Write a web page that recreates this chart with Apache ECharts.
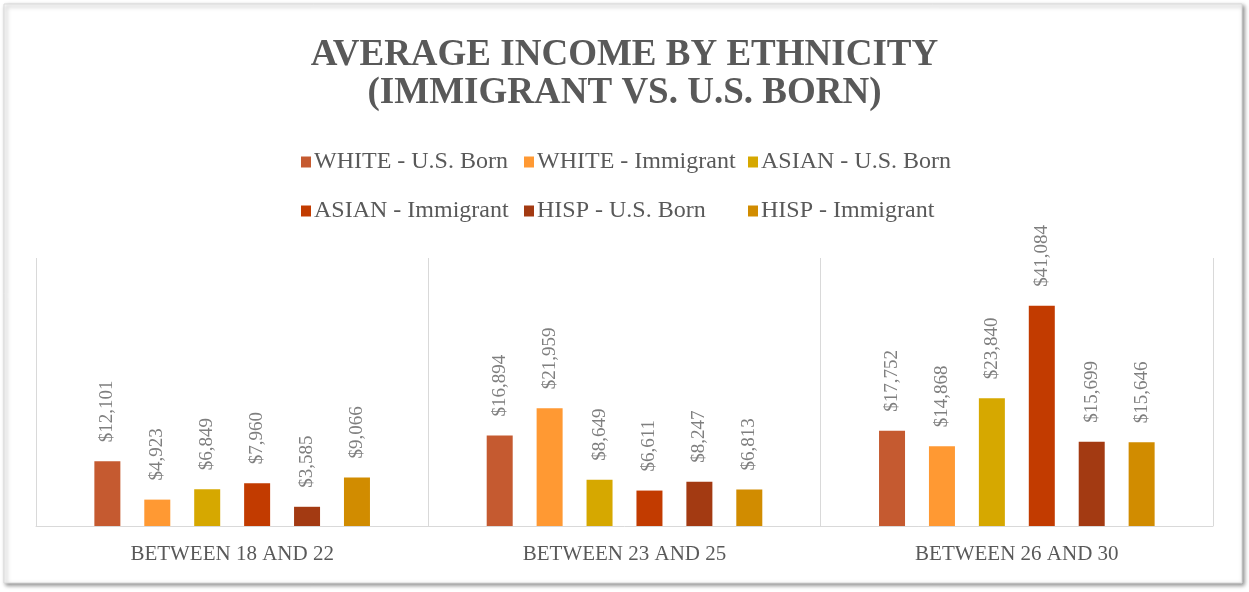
<!DOCTYPE html>
<html>
<head>
<meta charset="utf-8">
<script src="https://cdn.jsdelivr.net/npm/echarts@6/dist/echarts.min.js"></script>
<style>
html,body{margin:0;padding:0;background:#fff;}
#chart{width:1249px;height:592px;}
</style>
</head>
<body>
<div id="chart"></div>
<script>
const categories = ['BETWEEN 18 AND 22', 'BETWEEN 23 AND 25', 'BETWEEN 26 AND 30'];
const seriesNames = ['WHITE - U.S. Born', 'WHITE - Immigrant', 'ASIAN - U.S. Born', 'ASIAN - Immigrant', 'HISP - U.S. Born', 'HISP - Immigrant'];
const whiteUSBorn = [12101, 16894, 17752];
const whiteImmigrant = [4923, 21959, 14868];
const asianUSBorn = [6849, 8649, 23840];
const asianImmigrant = [7960, 6611, 41084];
const hispUSBorn = [3585, 8247, 15699];
const hispImmigrant = [9066, 6813, 15646];
const seriesValues = [whiteUSBorn, whiteImmigrant, asianUSBorn, asianImmigrant, hispUSBorn, hispImmigrant];
const colors = ['#C55A30', '#FF9933', '#D6A800', '#C23B00', '#A33A12', '#D18C00'];

const font = '"Liberation Serif", "Times New Roman", serif';
const chart = echarts.init(document.getElementById('chart'));

const legendBase = {
  orient: 'vertical', top: 145, itemWidth: 10, itemHeight: 11, itemGap: 25,
  icon: 'rect',
  textStyle: { fontFamily: font, fontSize: 24, color: '#595959', padding: [0, 0, 0, -2] }
};

chart.setOption({
  animation: false,
  color: colors,
  graphic: [{
    type: 'rect', z: -10, silent: true,
    shape: { x: 4, y: 4, width: 1238, height: 579 },
    style: { fill: '#fff', stroke: '#d9d9d9', lineWidth: 1, shadowBlur: 4, shadowOffsetX: 2, shadowOffsetY: 2, shadowColor: 'rgba(0,0,0,0.45)' }
  }],
  title: {
    text: 'AVERAGE INCOME BY ETHNICITY\n(IMMIGRANT VS. U.S. BORN)',
    left: 'center', top: 31,
    textStyle: { fontFamily: font, fontWeight: 'bold', fontSize: 37, color: '#595959', lineHeight: 38 }
  },
  legend: [
    Object.assign({}, legendBase, { left: 296, data: [seriesNames[0], seriesNames[3]] }),
    Object.assign({}, legendBase, { left: 519, data: [seriesNames[1], seriesNames[4]] }),
    Object.assign({}, legendBase, { left: 743, data: [seriesNames[2], seriesNames[5]] })
  ],
  grid: { left: 36, right: 36, top: 258, bottom: 66, containLabel: false },
  xAxis: {
    type: 'category', data: categories,
    axisLine: { lineStyle: { color: '#d9d9d9', width: 1 } },
    axisTick: { show: false },
    splitLine: { show: true, lineStyle: { color: '#d9d9d9', width: 1 } },
    axisLabel: { fontFamily: font, fontSize: 21, color: '#595959', margin: 18 }
  },
  yAxis: { type: 'value', min: 0, max: 50000, show: false, splitLine: { show: false } },
  series: seriesNames.map((name, i) => ({
    name, type: 'bar', data: seriesValues[i],
    barWidth: 26, barGap: '92%',
    itemStyle: { color: colors[i] },
    label: {
      show: true, position: 'top', rotate: 90, align: 'left', verticalAlign: 'middle',
      distance: 19, fontFamily: font, fontSize: 19, color: '#7f7f7f',
      formatter: p => '$' + p.value.toLocaleString('en-US')
    }
  }))
});
</script>
</body>
</html>
